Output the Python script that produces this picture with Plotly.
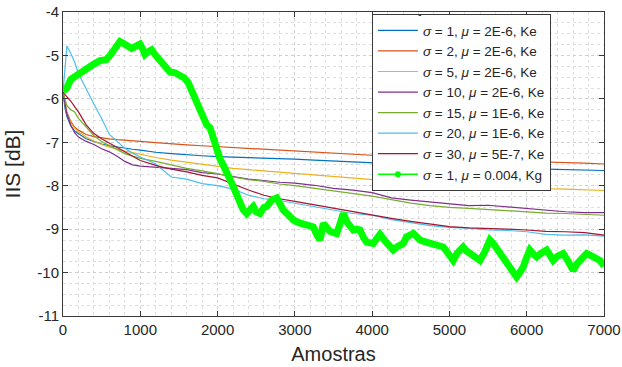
import plotly.graph_objects as go

# ---------------- data ----------------
X = [0, 25, 50, 100, 150, 200, 300, 400, 500, 600, 700, 800, 900, 1000, 1200, 1400,
     1600, 1800, 2000, 2200, 2400, 2600, 2800, 3000, 3250, 3500, 3750, 4000, 4250,
     4500, 4750, 5000, 5250, 5500, 5750, 6000, 6250, 6500, 6750, 7000]

s1_ke = [-5.85, -6.20, -6.40, -6.62, -6.74, -6.80, -6.92, -6.98, -7.04, -7.08, -7.11, -7.13, -7.16, -7.18,
         -7.23, -7.26, -7.29, -7.31, -7.33, -7.34, -7.35, -7.36, -7.38, -7.39, -7.41, -7.43, -7.46,
         -7.48, -7.50, -7.52, -7.54, -7.56, -7.57, -7.58, -7.60, -7.61, -7.62, -7.63, -7.64, -7.65]
s2_ke = [-5.85, -6.10, -6.30, -6.52, -6.65, -6.72, -6.82, -6.87, -6.90, -6.92, -6.94, -6.95, -6.97, -6.98,
         -7.01, -7.04, -7.06, -7.08, -7.10, -7.12, -7.14, -7.16, -7.18, -7.20, -7.23, -7.26, -7.29,
         -7.31, -7.33, -7.35, -7.37, -7.38, -7.40, -7.41, -7.43, -7.44, -7.45, -7.47, -7.48, -7.50]
s5_ke = [-5.85, -6.15, -6.35, -6.55, -6.68, -6.76, -6.88, -6.97, -7.05, -7.11, -7.16, -7.20, -7.24, -7.28,
         -7.35, -7.41, -7.46, -7.51, -7.55, -7.60, -7.63, -7.66, -7.69, -7.71, -7.75, -7.79, -7.83,
         -7.87, -7.90, -7.93, -7.96, -7.98, -8.00, -8.02, -8.04, -8.05, -8.07, -8.08, -8.09, -8.11]
s10_ke = [-5.85, -6.10, -6.35, -6.60, -6.78, -6.88, -6.98, -7.05, -7.15, -7.22, -7.32, -7.44, -7.52, -7.55,
          -7.57, -7.60, -7.63, -7.70, -7.73, -7.79, -7.85, -7.88, -7.92, -7.94, -7.99, -8.06, -8.10,
          -8.16, -8.28, -8.33, -8.37, -8.42, -8.46, -8.45, -8.49, -8.52, -8.56, -8.60, -8.62, -8.62]
s15_ke = [-5.85, -6.00, -6.15, -6.25, -6.30, -6.45, -6.65, -6.85, -6.98, -7.08, -7.17, -7.26, -7.32, -7.37,
          -7.44, -7.52, -7.60, -7.66, -7.72, -7.80, -7.86, -7.90, -7.96, -8.00, -8.06, -8.13, -8.19,
          -8.24, -8.32, -8.40, -8.46, -8.50, -8.52, -8.55, -8.58, -8.60, -8.63, -8.64, -8.66, -8.68]
s20_ke = [-5.85, -5.20, -4.78, -4.95, -5.15, -5.42, -5.78, -6.12, -6.45, -6.82, -6.98, -7.14, -7.25, -7.34,
          -7.50, -7.80, -7.85, -7.95, -8.00, -8.08, -8.22, -8.30, -8.34, -8.40, -8.48, -8.56, -8.64,
          -8.68, -8.78, -8.85, -8.92, -8.96, -8.98, -9.02, -9.03, -9.06, -9.12, -9.14, -9.13, -9.16]
s30_ke = [-5.85, -5.90, -5.95, -6.05, -6.18, -6.30, -6.60, -6.80, -6.92, -7.02, -7.12, -7.23, -7.32, -7.42,
          -7.53, -7.62, -7.68, -7.76, -7.82, -7.96, -8.10, -8.22, -8.30, -8.36, -8.44, -8.52, -8.60,
          -8.68, -8.75, -8.82, -8.88, -8.94, -8.97, -8.98, -9.00, -9.02, -9.05, -9.06, -9.08, -9.14]

Xg = [0, 50, 100, 200, 300, 400, 479, 560, 608, 673, 737, 780, 824, 888, 950, 996, 1030, 1061, 1100,
      1147, 1200, 1255, 1320, 1384, 1450, 1514, 1570, 1621, 1686, 1730, 1772, 1820, 1859, 1902, 1945,
      1988, 2031, 2080, 2117, 2160, 2203, 2250, 2290, 2330, 2376, 2420, 2462, 2500, 2549, 2600, 2635,
      2670, 2700, 2765, 2800, 2850, 2920, 2980, 3050, 3109, 3170, 3238, 3290, 3325, 3368, 3410, 3454,
      3500, 3541, 3590, 3626, 3680, 3756, 3800, 3842, 3890, 3929, 4014, 4060, 4101, 4180, 4230, 4273,
      4330, 4403, 4446, 4532, 4580, 4618, 4700, 4790, 4850, 4920, 4980, 5049, 5100, 5178, 5220, 5265,
      5330, 5394, 5450, 5524, 5567, 5610, 5653, 5720, 5783, 5830, 5869, 5910, 5955, 6000, 6041, 6090,
      6128, 6190, 6257, 6300, 6343, 6400, 6472, 6540, 6602, 6650, 6688, 6730, 6775, 6820, 6860, 6900,
      6947, 7000]
s1_kg = [-5.82, -5.75, -5.55, -5.42, -5.32, -5.20, -5.12, -5.10, -5.00, -4.82, -4.68, -4.72, -4.76, -4.84,
         -4.78, -4.74, -4.85, -4.98, -4.92, -4.87, -5.00, -5.10, -5.25, -5.38, -5.40, -5.45, -5.52, -5.63,
         -5.87, -6.05, -6.25, -6.45, -6.60, -6.66, -6.95, -7.10, -7.38, -7.55, -7.66, -7.85, -8.02, -8.25,
         -8.35, -8.55, -8.64, -8.55, -8.48, -8.60, -8.64, -8.50, -8.48, -8.40, -8.33, -8.28, -8.42, -8.56,
         -8.68, -8.79, -8.85, -8.87, -8.92, -8.95, -9.15, -9.25, -8.87, -8.98, -9.05, -9.08, -9.10, -8.85,
         -8.64, -8.85, -9.02, -9.00, -9.02, -9.20, -9.30, -9.33, -9.20, -9.12, -9.30, -9.40, -9.48, -9.40,
         -9.33, -9.18, -9.10, -9.18, -9.25, -9.30, -9.33, -9.38, -9.41, -9.55, -9.72, -9.55, -9.41, -9.50,
         -9.56, -9.65, -9.72, -9.55, -9.25, -9.33, -9.45, -9.56, -9.72, -9.87, -10.00, -10.10, -10.00,
         -9.87, -9.65, -9.48, -9.58, -9.64, -9.55, -9.48, -9.60, -9.72, -9.62, -9.56, -9.75, -9.95, -9.80,
         -9.72, -9.62, -9.56, -9.60, -9.64, -9.66, -9.72, -9.85]

names = ["<i>σ</i> = 1, <i>μ</i> = 2E-6, Ke", "<i>σ</i> = 2, <i>μ</i> = 2E-6, Ke",
         "<i>σ</i> = 5, <i>μ</i> = 2E-6, Ke", "<i>σ</i> = 10, <i>μ</i> = 2E-6, Ke",
         "<i>σ</i> = 15, <i>μ</i> = 1E-6, Ke", "<i>σ</i> = 20, <i>μ</i> = 1E-6, Ke",
         "<i>σ</i> = 30, <i>μ</i> = 5E-7, Ke"]
kg_name = "<i>σ</i> = 1, <i>μ</i> = 0.004, Kg"
ke_series = [s1_ke, s2_ke, s5_ke, s10_ke, s15_ke, s20_ke, s30_ke]
colors = ["#0072BD", "#D95319", "#EDB120", "#7E2F8E", "#77AC30", "#4DBEEE", "#A2142F"]

xticks = [0, 1000, 2000, 3000, 4000, 5000, 6000, 7000]
yticks = [-11, -10, -9, -8, -7, -6, -5, -4]
ytick_text = ["-11", "-10", "-9", "-8", "-7", "-6", "-5", "-4"]

# ---------------- figure ----------------
fig = go.Figure()
for ys, nm, c in zip(ke_series, names, colors):
    fig.add_trace(go.Scatter(x=X, y=ys, name=nm, mode="lines",
                             line=dict(color=c, width=1.2)))
fig.add_trace(go.Scatter(x=Xg, y=s1_kg, mode="lines", showlegend=False,
                         line=dict(color="#00FF00", width=7), hoverinfo="skip"))
fig.add_trace(go.Scatter(x=[None], y=[None], name=kg_name, mode="lines+markers",
                         line=dict(color="#00FF00", width=1.5),
                         marker=dict(color="#00FF00", size=6)))

axis_common = dict(showline=True, linecolor="#3a3a3a", linewidth=1, mirror="ticks",
                   ticks="inside", ticklen=5, tickcolor="#3a3a3a", tickwidth=1,
                   showgrid=True, gridcolor="#cfcfcf", griddash="dot", gridwidth=1,
                   zeroline=False,
                   tickfont=dict(family="Liberation Sans, Arial", size=15, color="#262626"))

fig.update_xaxes(range=[0, 7000], tickvals=xticks, ticktext=[str(v) for v in xticks],
                 minor=dict(dtick=200, showgrid=True, gridcolor="#dedede", griddash="dot"),
                 title=dict(text="Amostras", standoff=9,
                            font=dict(family="Liberation Sans, Arial", size=20, color="#262626")),
                 **axis_common)
fig.update_yaxes(range=[-11, -4], tickvals=yticks, ticktext=ytick_text,
                 minor=dict(dtick=0.25, tick0=-11, showgrid=True, gridcolor="#dedede", griddash="dot"),
                 title=dict(text="IIS [dB]", standoff=10,
                            font=dict(family="Liberation Sans, Arial", size=21, color="#262626")),
                 **axis_common)

fig.update_layout(
    width=622, height=367,
    margin=dict(l=63, r=18, t=12, b=51, autoexpand=False),
    paper_bgcolor="white", plot_bgcolor="white",
    font=dict(family="Liberation Sans, Arial", color="#262626"),
    legend=dict(x=0.571, y=0.993, xanchor="left", yanchor="top",
                bgcolor="white", bordercolor="#3a3a3a", borderwidth=1,
                font=dict(family="Liberation Sans, Arial", size=13.5, color="#262626"),
                tracegroupgap=0, itemwidth=40),
    showlegend=True,
    annotations=[dict(text="-", x=0.667, y=1.02, xref="paper", yref="paper",
                      showarrow=False, font=dict(size=11, color="#262626"))],
)

fig.write_html("out.html")
